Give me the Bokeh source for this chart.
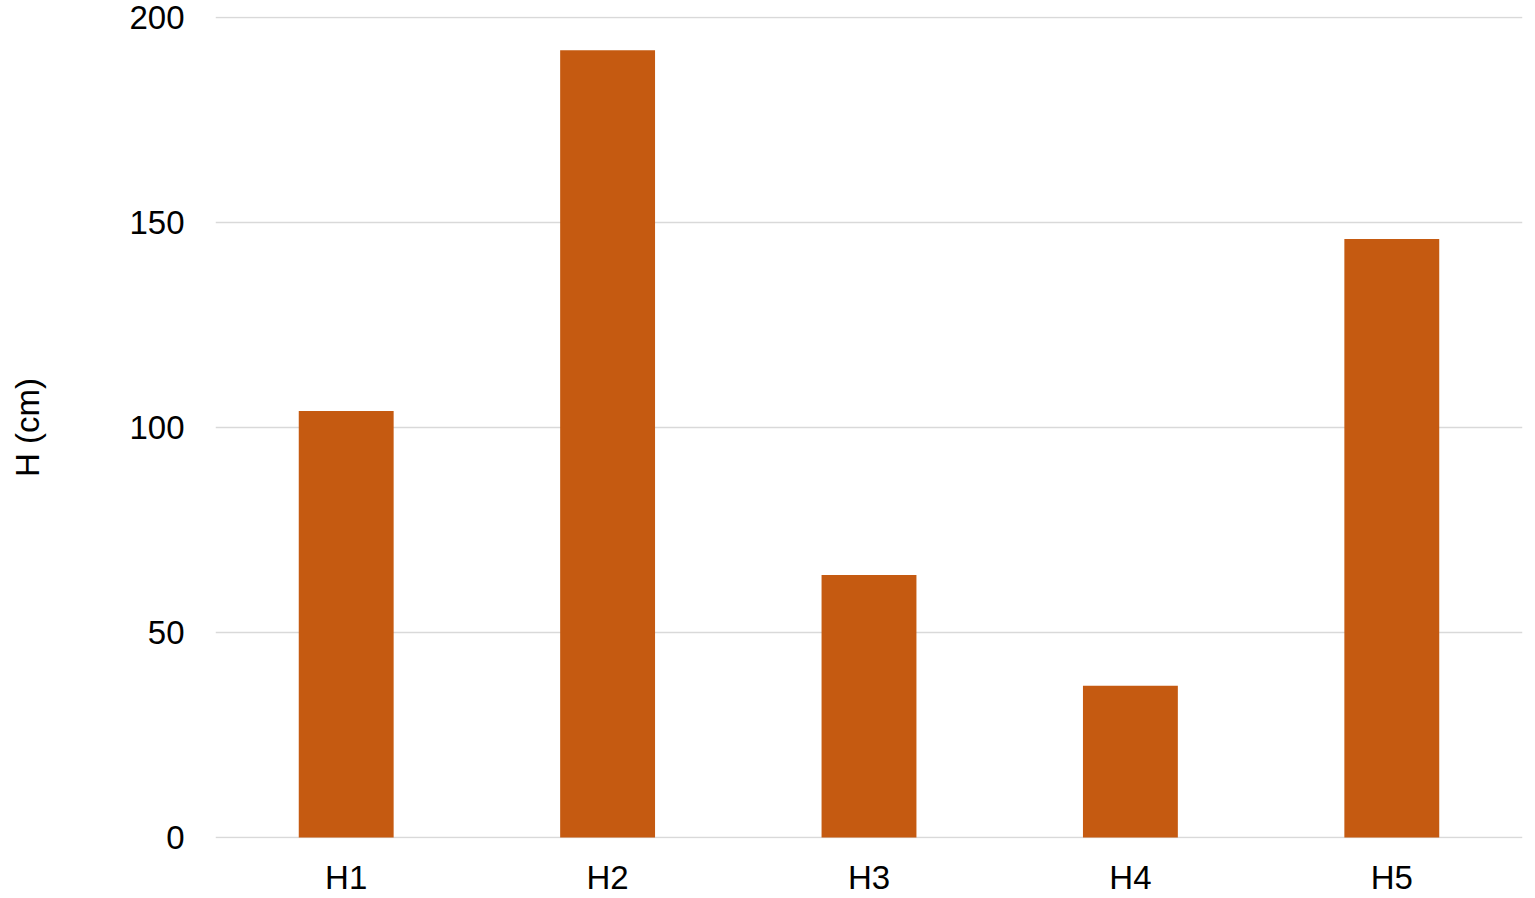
from bokeh.plotting import figure
from bokeh.models import Range1d, FixedTicker
from bokeh.embed import file_html
from bokeh.resources import INLINE

categories = ["H1", "H2", "H3", "H4", "H5"]
heights = [104, 192, 64, 37, 146]
y_ticks = [0, 50, 100, 150, 200]

FONT = "Liberation Sans"

p = figure(x_range=categories, y_range=Range1d(-0.25, 200.25),
           width=1535, height=898, output_backend="svg", toolbar_location=None,
           min_border_left=215, min_border_right=13, min_border_top=16, min_border_bottom=60)
p.outline_line_color = None
p.background_fill_color = "white"

p.vbar(x=categories, top=heights, width=0.363, fill_color="#C55A11", line_color=None)

p.xgrid.grid_line_color = None
p.ygrid.grid_line_color = "#D9D9D9"
p.ygrid.grid_line_width = 1.5
p.yaxis.ticker = FixedTicker(ticks=y_ticks)

for ax in (p.xaxis, p.yaxis):
    ax.axis_line_color = None
    ax.major_tick_line_color = None
    ax.minor_tick_line_color = None
    ax.major_tick_out = 0
    ax.major_tick_in = 0
    ax.major_label_text_font = FONT
    ax.major_label_text_font_size = "33px"
    ax.major_label_text_color = "#000000"

p.yaxis.major_label_standoff = 31
p.xaxis.major_label_standoff = 20
p.yaxis.axis_label = "H (cm)"
p.yaxis.axis_label_text_font = FONT
p.yaxis.axis_label_text_font_size = "33px"
p.yaxis.axis_label_text_font_style = "normal"
p.yaxis.axis_label_text_color = "#000000"
p.yaxis.axis_label_standoff = 80

open("out.html", "w").write(file_html(p, INLINE))
